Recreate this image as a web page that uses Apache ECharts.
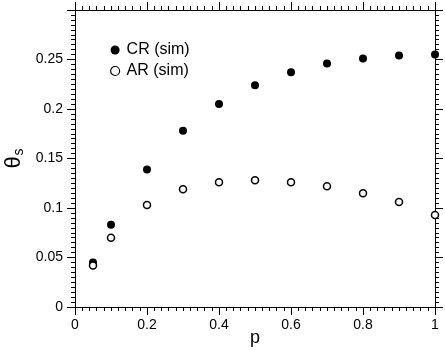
<!DOCTYPE html>
<html>
<head>
<meta charset="utf-8">
<script src="https://cdn.jsdelivr.net/npm/echarts@6/dist/echarts.min.js"></script>
<style>
  html, body { margin: 0; padding: 0; background: #fff; }
  #chart { width: 445px; height: 350px; }
</style>
</head>
<body>
<div id="chart"></div>
<script>
// p values and simulated theta_s
const pValues = [0.05, 0.1, 0.2, 0.3, 0.4, 0.5, 0.6, 0.7, 0.8, 0.9, 1.0];
const crSim = [0.045, 0.083, 0.139, 0.178, 0.205, 0.224, 0.237, 0.246, 0.251, 0.254, 0.255];
const arSim = [0.042, 0.070, 0.103, 0.119, 0.126, 0.128, 0.126, 0.122, 0.115, 0.106, 0.093];

const font = "Liberation Sans";

const chart = echarts.init(document.getElementById("chart"));

const axisBase = {
  axisLine: { show: true, onZero: false, lineStyle: { color: "#000", width: 1 } },
  axisTick: { show: true, length: 8, lineStyle: { color: "#000", width: 1 } },
  minorTick: { show: true, splitNumber: 10, length: 4, lineStyle: { color: "#000", width: 1 } },
  splitLine: { show: false },
};

const xAxis = (pos) => ({
  ...axisBase,
  type: "value",
  position: pos,
  min: 0,
  max: 1,
  interval: 0.2,
  axisLabel: {
    show: pos === "bottom",
    margin: 11,
    color: "#000",
    fontFamily: font,
    fontSize: 14,
  },
  name: pos === "bottom" ? "p" : "",
  nameLocation: "middle",
  nameGap: 22,
  nameMoveOverlap: false,
  nameTextStyle: { color: "#000", fontFamily: font, fontSize: 18 },
});

const yAxis = (pos) => ({
  ...axisBase,
  type: "value",
  position: pos,
  min: 0,
  max: 0.3,
  interval: 0.05,
  axisLabel: {
    show: pos === "left",
    showMaxLabel: false,
    margin: 12,
    color: "#000",
    fontFamily: font,
    fontSize: 14,
  },
  name: pos === "left" ? "{a|θ}{b|s}" : "",
  nameLocation: "middle",
  nameGap: 50,
  nameMoveOverlap: false,
  nameRotate: 90,
  nameTextStyle: {
    color: "#000",
    rich: {
      a: { fontFamily: font, fontSize: 22, color: "#000" },
      b: { fontFamily: font, fontSize: 14, color: "#000", padding: [0, 0, -10, 1] },
    },
  },
});

const option = {
  animation: false,
  backgroundColor: "#fff",
  grid: { left: 75, right: 10, top: 10, bottom: 43, outerBoundsMode: "none" },
  xAxis: [xAxis("bottom"), xAxis("top")],
  yAxis: [yAxis("left"), yAxis("right")],
  legend: {
    orient: "vertical",
    left: 105,
    top: 37,
    itemGap: 5,
    itemWidth: 9,
    itemHeight: 9,
    textStyle: { color: "#000", fontFamily: font, fontSize: 16, padding: [0, 0, 0, 2] },
    data: [
      { name: "CR (sim)" },
      { name: "AR (sim)", itemStyle: { borderWidth: 1.2 } },
    ],
  },
  series: [
    {
      name: "CR (sim)",
      type: "scatter",
      clip: false,
      symbol: "circle",
      symbolSize: 8,
      itemStyle: { color: "#000", opacity: 1 },
      data: pValues.map((p, i) => [p, crSim[i]]),
    },
    {
      name: "AR (sim)",
      type: "scatter",
      clip: false,
      symbol: "circle",
      symbolSize: 7,
      itemStyle: { color: "#fff", borderColor: "#000", borderWidth: 1.5, opacity: 1 },
      data: pValues.map((p, i) => [p, arSim[i]]),
    },
  ],
};

chart.setOption(option);
</script>
</body>
</html>
